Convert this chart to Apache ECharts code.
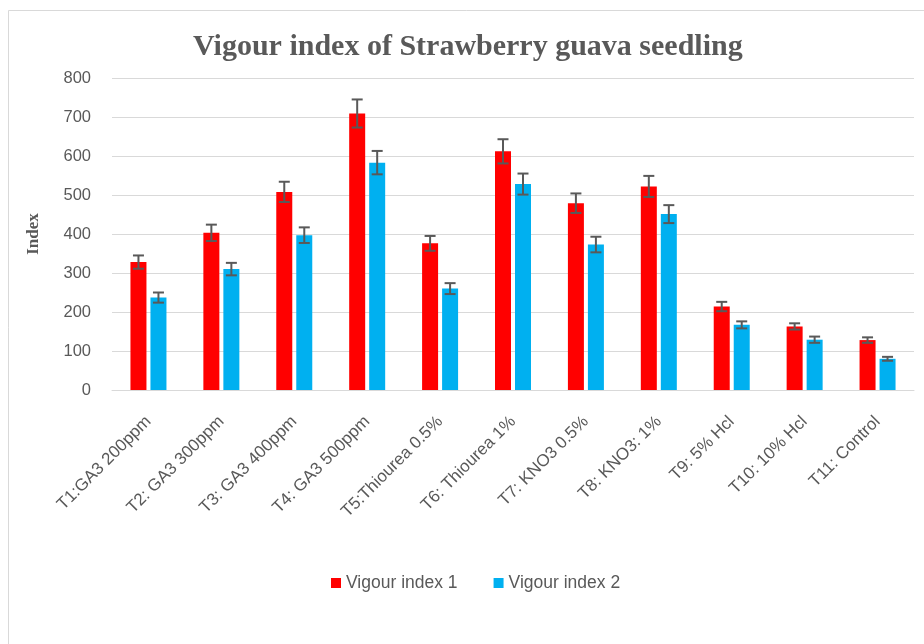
<!DOCTYPE html>
<html>
<head>
<meta charset="utf-8">
<script src="https://cdn.jsdelivr.net/npm/echarts@6/dist/echarts.min.js"></script>
<style>html,body{margin:0;padding:0;background:#fff;}#c{width:924px;height:644px;}</style>
</head>
<body>
<div id="c"></div>
<script>
const categories = ["T1:GA3 200ppm","T2: GA3 300ppm","T3: GA3 400ppm","T4: GA3 500ppm","T5:Thiourea 0.5%","T6: Thiourea 1%","T7: KNO3 0.5%","T8: KNO3: 1%","T9: 5% Hcl","T10: 10% Hcl","T11: Control"];
const vigour1 = [328, 403, 508, 709, 376, 612, 479, 522, 214, 163, 128];
const vigour2 = [237, 310, 397, 583, 260, 528, 373, 451, 167, 129, 80];
const err1 = [17, 21, 26, 36, 19, 31, 25, 27, 12, 8, 7];
const err2 = [13, 16, 20, 30, 14, 27, 20, 23, 9, 8, 5];
const yTicks = [0, 100, 200, 300, 400, 500, 600, 700, 800];

const BAR_W = 16, BAR_GAP = 4;
const textColor = '#595959';
const sans = 'Liberation Sans';

function errSeries(name, vals, errs, sign) {
  return {
    type: 'custom',
    name: name + ' err',
    z: 5,
    silent: true,
    data: vals.map((v, i) => [i, v, errs[i]]),
    renderItem: function (params, api) {
      const i = api.value(0), v = api.value(1), e = api.value(2);
      const off = sign * (BAR_W + BAR_GAP) / 2;
      const top = api.coord([i, v + e]);
      const bot = api.coord([i, v - e]);
      const x = top[0] + off;
      const cap = 5.5;
      const st = { stroke: '#595959', lineWidth: 2 };
      return {
        type: 'group',
        children: [
          { type: 'line', shape: { x1: x, y1: top[1], x2: x, y2: bot[1] }, style: st },
          { type: 'line', shape: { x1: x - cap, y1: top[1], x2: x + cap, y2: top[1] }, style: st },
          { type: 'line', shape: { x1: x - cap, y1: bot[1], x2: x + cap, y2: bot[1] }, style: st }
        ]
      };
    }
  };
}

const chart = echarts.init(document.getElementById('c'), null, { renderer: 'canvas' });
chart.setOption({
  animation: false,
  backgroundColor: '#fff',
  graphic: [{
    type: 'rect', shape: { x: 8.5, y: 10.5, width: 940, height: 660 },
    style: { fill: 'none', stroke: '#d9d9d9', lineWidth: 1 }, z: -10
  }],
  title: {
    text: 'Vigour index of Strawberry guava seedling',
    left: 188, top: 27,
    textStyle: { fontFamily: 'Liberation Serif', fontWeight: 'bold', fontSize: 30, color: textColor }
  },
  legend: {
    data: ['Vigour index 1', 'Vigour index 2'],
    left: 326, top: 569,
    itemWidth: 10, itemHeight: 10, itemGap: 36,
    icon: 'rect',
    textStyle: { fontFamily: sans, fontSize: 17.5, color: textColor }
  },
  grid: { left: 112, right: 10, top: 78, bottom: 254 },
  xAxis: {
    type: 'category',
    data: categories,
    axisLine: { lineStyle: { color: '#d9d9d9', width: 1 } },
    axisTick: { show: false },
    axisLabel: { interval: 0, rotate: 45, margin: 29, fontFamily: sans, fontSize: 17, color: textColor }
  },
  yAxis: {
    type: 'value', min: yTicks[0], max: yTicks[yTicks.length - 1], interval: 100,
    name: 'Index', nameLocation: 'middle', nameRotate: 90, nameGap: 70,
    nameTextStyle: { fontFamily: 'Liberation Serif', fontWeight: 'bold', fontSize: 17, color: textColor },
    axisLine: { show: false }, axisTick: { show: false },
    splitLine: { lineStyle: { color: '#d9d9d9', width: 1 } },
    axisLabel: { margin: 21, fontFamily: sans, fontSize: 16.5, color: textColor }
  },
  series: [
    { type: 'bar', name: 'Vigour index 1', data: vigour1, barWidth: BAR_W, barGap: (BAR_GAP / BAR_W * 100) + '%', itemStyle: { color: '#ff0000' } },
    { type: 'bar', name: 'Vigour index 2', data: vigour2, barWidth: BAR_W, itemStyle: { color: '#00b0f0' } },
    errSeries('Vigour index 1', vigour1, err1, -1),
    errSeries('Vigour index 2', vigour2, err2, 1)
  ]
});
</script>
</body>
</html>
